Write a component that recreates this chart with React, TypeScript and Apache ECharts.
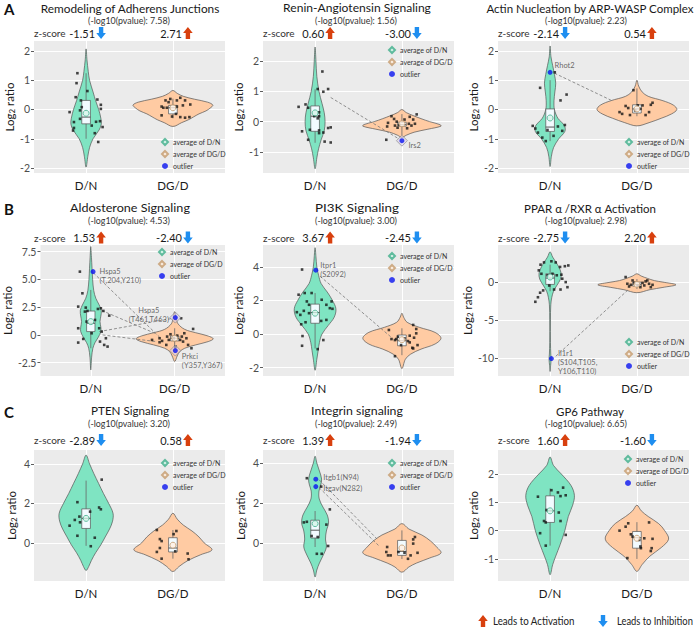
import React, { useEffect, useRef } from 'react';
import * as echarts from 'echarts';

// ---------------- data ----------------
const groups = ['D/N', 'DG/D'];
const panelLetters = ['A', 'B', 'C'];
const pathways = [
  'Remodeling of Adherens Junctions',
  'Renin-Angiotensin Signaling',
  'Actin Nucleation by ARP-WASP Complex',
  'Aldosterone Signaling',
  'PI3K Signaling',
  'PPAR α /RXR α Activation',
  'PTEN Signaling',
  'Integrin signaling',
  'GP6 Pathway',
];
const negLog10P = ['7.58', '1.56', '2.23', '4.53', '3.00', '2.98', '3.20', '2.49', '6.65'];
const zScores = [
  ['-1.51', '2.71'], ['0.60', '-3.00'], ['-2.14', '0.54'],
  ['1.53', '-2.40'], ['3.67', '-2.45'], ['-2.75', '2.20'],
  ['-2.89', '0.58'], ['1.39', '-1.94'], ['1.60', '-1.60'],
];
const yRanges = [
  [-2.17, 2.34], [-1.7, 2.67], [-2.17, 2.34],
  [-3.7, 8.1], [-2.5, 5.3], [-12.4, 4.9],
  [-1.93, 4.7], [-1.9, 4.65], [-1.78, 2.85],
];
const yTicks = [
  [-2, -1, 0, 1, 2], [-1, 0, 1, 2], [-2, -1, 0, 1, 2],
  [-2.5, 0, 2.5, 5, 7.5], [-2, 0, 2, 4], [-10, -5, 0],
  [0, 2, 4], [0, 2, 4], [-1, 0, 1, 2],
];
const yTickLabels = [
  ['-2', '-1', '0', '1', '2'], ['-1', '0', '1', '2'], ['-2', '-1', '0', '1', '2'],
  ['-2.5', '0', '2.5', '5.0', '7.5'], ['-2', '0', '2', '4'], ['-10', '-5', '0'],
  ['0', '2', '4'], ['0', '2', '4'], ['-1', '0', '1', '2'],
];

// violin outlines: [log2 ratio, half width]
const violinA1DN = [[2.07, 0], [1.7, 0.01], [1.3, 0.025], [1.0, 0.04], [0.6, 0.08], [0.3, 0.11], [0, 0.145], [-0.3, 0.17], [-0.5, 0.175], [-0.7, 0.15], [-1.0, 0.08], [-1.3, 0.04], [-1.6, 0.02], [-1.97, 0]];
const violinA1DGD = [[0.65, 0], [0.55, 0.05], [0.45, 0.12], [0.35, 0.25], [0.25, 0.4], [0.15, 0.46], [0.05, 0.43], [-0.05, 0.38], [-0.15, 0.3], [-0.25, 0.24], [-0.35, 0.18], [-0.45, 0.1], [-0.58, 0]];
const violinA2DN = [[2.47, 0], [2.0, 0.01], [1.5, 0.02], [1.0, 0.045], [0.6, 0.08], [0.3, 0.105], [0, 0.115], [-0.3, 0.105], [-0.6, 0.07], [-0.9, 0.04], [-1.2, 0.02], [-1.56, 0]];
const violinA2DGD = [[0.4, 0], [0.3, 0.05], [0.2, 0.13], [0.1, 0.22], [0, 0.32], [-0.1, 0.44], [-0.15, 0.45], [-0.25, 0.3], [-0.35, 0.14], [-0.45, 0.05], [-0.52, 0]];
const violinA3DN = [[2.17, 0], [1.8, 0.01], [1.5, 0.03], [1.2, 0.05], [0.9, 0.065], [0.6, 0.055], [0.3, 0.045], [0, 0.05], [-0.3, 0.09], [-0.55, 0.165], [-0.75, 0.17], [-1.0, 0.1], [-1.3, 0.04], [-1.6, 0.015], [-1.95, 0]];
const violinA3DGD = [[1.0, 0], [0.8, 0.02], [0.6, 0.06], [0.45, 0.13], [0.3, 0.3], [0.15, 0.42], [0, 0.46], [-0.15, 0.4], [-0.3, 0.28], [-0.45, 0.14], [-0.56, 0]];
const violinB1DN = [[7.96, 0], [7, 0.008], [6, 0.015], [5, 0.022], [4, 0.035], [3.3, 0.06], [2.7, 0.1], [2.2, 0.125], [1.7, 0.12], [1.2, 0.11], [0.7, 0.12], [0.3, 0.12], [-0.2, 0.09], [-0.7, 0.05], [-1.2, 0.025], [-2, 0.01], [-3.15, 0]];
const violinB1DGD = [[2.1, 0], [1.5, 0.02], [1.0, 0.04], [0.5, 0.12], [0.2, 0.25], [-0.1, 0.4], [-0.35, 0.46], [-0.6, 0.4], [-0.9, 0.25], [-1.2, 0.12], [-1.5, 0.06], [-1.9, 0.03], [-2.4, 0]];
const violinB2DN = [[5.14, 0], [4.6, 0.01], [4, 0.02], [3.5, 0.04], [3, 0.07], [2.5, 0.14], [2, 0.2], [1.5, 0.24], [1.0, 0.22], [0.5, 0.15], [0, 0.08], [-0.5, 0.05], [-1.0, 0.035], [-1.5, 0.02], [-2.16, 0]];
const violinB2DGD = [[1.24, 0], [1.0, 0.02], [0.7, 0.06], [0.4, 0.2], [0.1, 0.38], [-0.25, 0.45], [-0.6, 0.38], [-0.9, 0.22], [-1.2, 0.1], [-1.5, 0.04], [-2.06, 0]];
const violinB3DN = [[4, 0], [3.3, 0.03], [2.6, 0.07], [2, 0.1], [1.2, 0.127], [0.4, 0.12], [-0.4, 0.08], [-1.2, 0.04], [-2, 0.02], [-3, 0.008], [-5, 0.004], [-8, 0.004], [-9.5, 0.008], [-10.2, 0.012], [-11, 0.006], [-11.8, 0]];
const violinB3DGD = [[1.1, 0], [0.8, 0.05], [0.5, 0.12], [0.2, 0.2], [0, 0.3], [-0.35, 0.45], [-0.7, 0.3], [-1.0, 0.15], [-1.4, 0]];
const violinC1DN = [[4.44, 0], [4, 0.04], [3.5, 0.09], [3, 0.145], [2.5, 0.2], [2, 0.26], [1.5, 0.31], [1.1, 0.305], [0.7, 0.27], [0.3, 0.22], [-0.1, 0.17], [-0.5, 0.11], [-0.9, 0.06], [-1.2, 0.03], [-1.4, 0]];
const violinC1DGD = [[1.5, 0], [1.2, 0.05], [0.9, 0.12], [0.6, 0.22], [0.3, 0.3], [0, 0.36], [-0.35, 0.45], [-0.6, 0.32], [-0.9, 0.17], [-1.2, 0.07], [-1.45, 0]];
const violinC2DN = [[4.34, 0], [4, 0.02], [3.6, 0.05], [3.2, 0.075], [2.9, 0.065], [2.6, 0.045], [2.2, 0.048], [1.8, 0.09], [1.4, 0.14], [1.0, 0.155], [0.6, 0.13], [0.2, 0.12], [-0.2, 0.13], [-0.6, 0.095], [-1.0, 0.05], [-1.35, 0.02], [-1.7, 0]];
const violinC2DGD = [[0.97, 0], [0.7, 0.08], [0.4, 0.23], [0.1, 0.33], [-0.2, 0.4], [-0.5, 0.45], [-0.75, 0.32], [-1.0, 0.17], [-1.2, 0.08], [-1.46, 0]];
const violinC3DN = [[2.6, 0], [2.3, 0.04], [2.0, 0.13], [1.6, 0.24], [1.25, 0.28], [0.9, 0.26], [0.5, 0.21], [0, 0.17], [-0.5, 0.115], [-0.9, 0.065], [-1.2, 0.03], [-1.56, 0]];
const violinC3DGD = [[0.9, 0], [0.7, 0.05], [0.5, 0.13], [0.25, 0.25], [0, 0.32], [-0.3, 0.365], [-0.6, 0.28], [-0.9, 0.15], [-1.2, 0.06], [-1.44, 0]];
const violins = [
  [violinA1DN, violinA1DGD], [violinA2DN, violinA2DGD], [violinA3DN, violinA3DGD],
  [violinB1DN, violinB1DGD], [violinB2DN, violinB2DGD], [violinB3DN, violinB3DGD],
  [violinC1DN, violinC1DGD], [violinC2DN, violinC2DGD], [violinC3DN, violinC3DGD],
];

// jittered phosphosites: [offset from group, log2 ratio]
const pointsA1DN = [[-0.10, 1.24], [-0.11, 0.90], [0.015, 0.63], [-0.12, 0.42], [-0.06, 0.31], [0.13, 0.34], [0.17, 0.16], [0.17, 0.02], [-0.19, -0.09], [-0.05, 0.08], [-0.07, -0.32], [-0.14, -0.43], [-0.14, -0.63], [0.115, -0.42], [0.16, -0.40], [0.065, -0.55], [0.19, -0.60], [-0.15, -0.72], [0.10, -0.81], [0.14, -1.11], [-0.07, -0.03]];
const pointsA1DGD = [[-0.085, 0.31], [-0.03, 0.36], [0.046, 0.31], [0.085, 0.40], [0.14, 0.31], [-0.13, 0.10], [-0.11, 0.06], [-0.07, 0.06], [0.046, 0.10], [0.115, 0.14], [0.2, 0.17], [-0.13, -0.20], [-0.01, -0.24], [0.035, -0.15], [0.085, -0.26], [0.14, -0.28], [0.19, -0.26], [-0.05, 0.25]];
const pointsA2DN = [[0.084, 1.66], [0.03, 1.08], [0.095, 0.99], [0.15, 1.08], [-0.19, 0.49], [-0.11, 0.57], [-0.08, 0.46], [0.046, 0.31], [-0.01, 0.18], [0.046, 0.18], [0.03, 0.11], [-0.15, -0.32], [-0.06, -0.27], [0.046, -0.29], [0.15, -0.21], [0.18, -0.19], [0.095, -0.36], [-0.08, -0.6], [0.11, -0.66], [0.18, -0.69], [0.046, -0.38]];
const pointsA2DGD = [[-0.12, 0.18], [-0.09, 0.09], [-0.16, -0.04], [-0.17, -0.16], [-0.06, 0], [0.03, 0.07], [0.09, 0.16], [0.13, 0.07], [0.15, -0.07], [0.17, 0.24], [-0.05, -0.2], [0.06, -0.22], [0.11, -0.13], [-0.18, -0.6], [-0.03, -0.1], [0.08, -0.07], [-0.08, -0.13]];
const pointsA3DN = [[-0.115, 0.74], [0.054, 1.27], [0.12, 0.31], [0.19, 0.51], [-0.2, -0.56], [-0.17, -0.65], [-0.14, -0.79], [-0.09, -0.96], [-0.05, -1.08], [0.04, -0.9], [0.09, -0.58], [0.14, -0.73], [0.17, -0.53], [-0.03, -0.7]];
const pointsA3DGD = [[-0.04, 0.66], [-0.13, 0.12], [-0.1, 0.05], [-0.2, -0.09], [-0.17, -0.15], [-0.08, -0.19], [-0.02, -0.03], [0.04, 0.02], [0.065, 0.14], [0.1, -0.19], [0.14, -0.09], [0.16, 0.16], [0.18, 0.23], [0.01, 0.14]];
const pointsB1DN = [[-0.13, 5.7], [-0.1, 3.75], [-0.15, 2.55], [-0.06, 2.46], [-0.07, 2.1], [-0.04, 2.16], [0.085, 2.34], [0.12, 2.4], [0.15, 2.16], [-0.15, 0.6], [-0.09, -0.36], [-0.15, -0.69], [-0.05, 1.2], [0.05, 1.35], [0.1, 0.6], [0.13, 0.3], [0.11, -0.6], [0.16, -0.9], [0.2, -1.05], [0.18, -0.3], [0.22, 1.74], [0.01, 0.15]];
const pointsB1DGD = [[-0.27, -0.45], [-0.18, -0.3], [-0.15, -0.54], [-0.09, -0.15], [-0.07, -0.45], [-0.01, -0.3], [0.03, -0.06], [0.065, -0.45], [0.085, -0.15], [0.115, 0.15], [0.1, -0.6], [0.14, -0.3], [0.16, -0.9], [0.2, -1.2], [0.077, 1.5], [-0.05, 0.06], [-0.1, -0.9], [0.01, -1.05], [0.22, 0.54], [-0.18, -0.66]];
const pointsB2DN = [[-0.15, 3.84], [-0.19, 2.34], [-0.12, 2.44], [-0.04, 2.44], [-0.095, 1.94], [0.076, 2.04], [0.13, 1.74], [0.17, 1.54], [0.2, 1.5], [0.19, 1.94], [-0.21, 1.3], [-0.17, 1.14], [-0.13, 1.38], [-0.07, 1.24], [-0.11, 0.7], [-0.16, 0.58], [0.07, 0.78], [0.13, 0.84], [-0.145, -0.12], [-0.15, -0.7], [0.095, -0.36], [0.03, -0.9], [-0.07, 1.74]];
const pointsB2DGD = [[-0.15, 0.24], [-0.12, -0.3], [-0.065, -0.3], [-0.046, -0.16], [-0.08, -0.36], [0.03, -0.26], [0.07, -0.42], [0.09, -0.5], [0.12, -0.82], [0.13, 0.54], [0.165, 0.3], [0.165, 0.04], [0.09, -0.1], [0.14, -0.22], [-0.08, -1.32], [0.18, -0.66], [-0.01, -0.66], [0.13, -0.86]];
const pointsB3DN = [[-0.11, 2.3], [-0.07, 2.6], [0.015, 2.75], [0.065, 2.6], [0.115, 2.0], [0.17, 2.1], [0.21, 2.2], [-0.13, 1.55], [-0.1, 1.1], [-0.03, 0.9], [0.027, 1.1], [0.077, 0.9], [0.13, 0.98], [0.14, 0.45], [0.18, 0], [0.2, -0.67], [-0.08, -1.1], [-0.115, -1.4], [-0.14, -2.0], [-0.17, -2.6], [0.046, -0.98], [0.12, -0.98], [-0.01, -0.45]];
const pointsB3DGD = [[-0.13, 0.67], [-0.11, -0.22], [-0.07, -0.36], [-0.03, -0.1], [0.008, -0.44], [0.065, -0.1], [0.1, 0.1], [0.14, -0.22], [0.16, -0.67], [0.18, -0.36], [0.04, -0.67], [-0.09, -0.58], [0.085, -0.44], [-0.05, 0.22], [0.12, 0.22]];
const pointsC1DN = [[0.18, 3.2], [-0.1, 2.06], [0.046, 1.58], [0.15, 1.79], [0.17, 1.7], [-0.13, 1.16], [-0.077, 1.33], [-0.07, 1.04], [-0.19, 0.87], [-0.1, 0.36], [0.1, 0.26], [0.054, -0.17]];
const pointsC1DGD = [[-0.185, 0.65], [-0.15, 0.19], [-0.13, 0.09], [-0.15, -0.26], [-0.185, -0.46], [-0.13, -0.8], [0.008, 0.44], [0.04, 0.6], [0.027, -0.43], [0.17, -0.54], [0.18, -0.83]];
const pointsC2DN = [[-0.095, 3.24], [0.07, 2.82], [0.17, 1.68], [-0.13, 1.03], [-0.095, 1.06], [-0.04, 0.35], [0.03, 0.3], [0.13, 0.92], [0.15, -0.15], [0.02, -0.54], [0.076, -0.54]];
const pointsC2DGD = [[-0.17, -0.2], [-0.16, -0.62], [-0.18, -0.45], [-0.13, -0.62], [-0.04, -0.45], [0.03, -0.49], [0.07, -0.79], [0.1, -0.62], [0.13, 0.18], [0.15, 0.3], [0.18, -0.49], [0.13, -0.03]];
const pointsC3DN = [[-0.14, 1.2], [0.015, 1.43], [0.09, 1.35], [0.15, 1.52], [0.18, 1.25], [0.12, 1.22], [-0.04, 0.73], [0.1, 0.64], [-0.05, 0.29], [0.12, 0.34], [-0.115, -0.09], [-0.05, -0.53], [0.18, -0.15], [-0.07, 0.34]];
const pointsC3DGD = [[-0.2, 0], [-0.13, 0.14], [-0.1, 0.26], [-0.07, -0.13], [-0.05, -0.21], [0.027, -0.33], [0.046, -0.62], [0.085, -0.27], [0.18, -0.29], [0.14, 0.29], [0.17, -0.62], [0.16, -0.72], [-0.11, -0.97], [0.04, -0.56]];
const points = [
  [pointsA1DN, pointsA1DGD], [pointsA2DN, pointsA2DGD], [pointsA3DN, pointsA3DGD],
  [pointsB1DN, pointsB1DGD], [pointsB2DN, pointsB2DGD], [pointsB3DN, pointsB3DGD],
  [pointsC1DN, pointsC1DGD], [pointsC2DN, pointsC2DGD], [pointsC3DN, pointsC3DGD],
];

// box statistics: [lower whisker, Q1, median, Q3, upper whisker]
const boxStats = [
  [[-1.0, -0.49, -0.26, 0.31, 1.24], [-0.3, -0.15, 0.06, 0.14, 0.37]],
  [[-0.7, -0.32, 0.18, 0.52, 1.07], [-0.45, -0.15, -0.1, -0.02, 0.25]],
  [[-1.08, -0.75, -0.6, 0.02, 1.0], [-0.23, -0.12, 0.02, 0.16, 0.72]],
  [[-1.2, 0.3, 1.05, 2.15, 4.05], [-1.3, -0.54, -0.3, -0.1, 0.6]],
  [[-0.86, 0.64, 1.28, 1.78, 2.44], [-1.26, -0.7, -0.4, -0.06, 0.34]],
  [[-1.2, -0.3, 0.53, 1.1, 2.3], [-0.9, -0.53, -0.3, 0, 0.4]],
  [[-0.15, 0.73, 1.24, 1.72, 3.15], [-0.8, -0.46, -0.26, 0.26, 0.65]],
  [[-0.2, 0.25, 0.64, 1.14, 1.6], [-0.8, -0.62, -0.42, 0.13, 0.63]],
  [[-0.53, 0.29, 0.7, 1.23, 1.49], [-1.0, -0.62, -0.25, -0.03, 0.3]],
];
const means = [
  [-0.13, 0.06], [0.29, -0.07], [-0.29, 0.02],
  [1.2, -0.3], [1.24, -0.34], [0.67, -0.3],
  [1.24, -0.12], [0.97, -0.25], [0.7, -0.27],
];
// outliers: [group index, offset, log2 ratio, site]
const outliers = [
  [],
  [[1, 0, -0.63, 'Irs2']],
  [[0, 0, 1.27, 'Rhot2']],
  [[0, 0.027, 5.7, 'Hspa5\n(T,204,Y210)'], [1, 0.008, 1.56, 'Hspa5\n(T461,T463)'], [1, 0.008, -1.41, 'Prkci\n(Y357,Y367)']],
  [[0, 0.008, 3.8, 'Itpr1\n(S2092)']],
  [[0, 0.015, -10.1, 'Il1r1\n(S104,T105,\nY106,T110)']],
  [],
  [[0, 0.008, 3.19, 'Itgb1(N94)'], [0, 0.008, 2.82, 'Itgav(N282)']],
  [],
];
// same protein linked between groups: [x1, y1, x2, y2]
const links = [
  [],
  [[1.18, 0.8, 1.97, -0.58]],
  [[1.05, 1.24, 1.7, 0.32]],
  [[1.03, 5.6, 1.82, -0.2], [1.13, 2.2, 1.78, 0.1], [1.1, 0.3, 1.98, 1.5], [1.14, 0.0, 1.78, -0.6]],
  [[1.057, 3.44, 1.87, -0.16]],
  [[1.065, -9.8, 1.91, -0.9]],
  [],
  [[1.046, 3.16, 1.73, 0.13], [1.046, 2.77, 1.73, -0.12]],
  [],
];

// ---------------- layout / style ----------------
const FONT = 'Lato, "Open Sans", sans-serif';
const colLeft = [34, 263, 498];
const plotW = 191;
const rowTop = [41, 245, 450];
const rowBottom = [173, 376, 581];
const titleCX = [130, 357, 590];
const subCX = [129, 356, 586];
const titleW = [180, 148, 208, 120, 84, 132, 78, 92, 68];
const subW = 82;
const titleY = [8, 207.5, 410.5];
const subY = [20.5, 220.5, 423];
const zY = [33, 237.5, 440];
const letterY = [9, 209, 412];
const violinFill = ['#7FE4C2', '#FFCBA3'];
const meanFill = ['#d5f5ea', '#fff0e2'];
const meanStroke = ['#3fae8a', '#c49a6c'];
const RED = '#d8400e';
const BLUE = '#1e8ef0';
// legend box [left, top]
const legendPos = [[161, 137], [388, 45], [625, 137], [158, 247], [388, 251], [625, 337], [161, 458], [388, 458], [624, 454]];
// outlier label placement [position, offsetX, offsetY, align]
const outlierLabelPos = [
  [],
  [['right', 0, 5, 'left']],
  [['right', -2, -7, 'left']],
  [['right', 0, 4, 'left'], ['left', -20, -3, 'center'], ['right', 0, 10, 'left']],
  [['right', -2, 0, 'left']],
  [['right', 0, 4, 'left']],
  [],
  [['right', 1, -1.5, 'left'], ['right', 1, 1.5, 'left']],
  [],
];

const upArrow = [[0, -6], [4.8, 0], [2.2, 0], [2.2, 6], [-2.2, 6], [-2.2, 0], [-4.8, 0]];
const downArrow = upArrow.map(([x, y]) => [x, -y]);

let measureCtx: CanvasRenderingContext2D | null = null;
function textWidth(text: string, size: number) {
  if (!measureCtx) measureCtx = document.createElement('canvas').getContext('2d');
  if (!measureCtx) return 0;
  measureCtx.font = `${size}px ${FONT}`;
  return measureCtx.measureText(text).width;
}

function arrowFor(v: string, x: number, y: number) {
  const up = parseFloat(v) > 0;
  return { type: 'polygon', x, y, shape: { points: up ? upArrow : downArrow }, style: { fill: up ? RED : BLUE } };
}
function txt(text: string, x: number, y: number, size: number, align = 'center', color = '#1a1a1a', weight = 'normal') {
  return {
    type: 'text', x, y,
    style: { text, fill: color, fontSize: size, fontFamily: FONT, fontWeight: weight, align, verticalAlign: 'middle' },
  };
}
// text squeezed horizontally to the width it takes in the reference
function fitTxt(text: string, x: number, y: number, size: number, width: number, align = 'center', color = '#1a1a1a') {
  const w = textWidth(text, size);
  const s = w > 0 ? width / w : 1;
  return { ...txt(text, x, y, size, align, color), scaleX: s };
}

function buildOption() {
  const grid: any[] = [], xAxis: any[] = [], yAxis: any[] = [], series: any[] = [], legend: any[] = [], graphic: any[] = [];
  for (let p = 0; p < 9; p++) {
    const r = Math.floor(p / 3), c = p % 3;
    const left = colLeft[c];
    grid.push({ left, top: rowTop[r], width: plotW, height: rowBottom[r] - rowTop[r], show: true, backgroundColor: '#EBEBEB', borderWidth: 0 });
    xAxis.push({
      type: 'value', gridIndex: p, min: 0.4, max: 2.6,
      axisLine: { show: false },
      axisTick: { show: true, customValues: [1, 2], length: 3, lineStyle: { color: '#333', width: 0.8 } },
      axisLabel: { customValues: [1, 2], formatter: (v: number) => groups[Math.round(v) - 1], color: '#1a1a1a', fontSize: 11.5, fontFamily: FONT, margin: 6 },
      splitLine: { show: true, lineStyle: { color: '#ffffff', width: 1 } },
    });
    const ticks = yTicks[p], labs = yTickLabels[p];
    yAxis.push({
      type: 'value', gridIndex: p, min: yRanges[p][0], max: yRanges[p][1],
      axisLine: { show: false },
      axisTick: { show: true, customValues: ticks, length: 3, lineStyle: { color: '#333', width: 0.8 } },
      axisLabel: { customValues: ticks, formatter: (v: number) => labs[ticks.indexOf(v)] ?? '', color: '#4d4d4d', fontSize: 10.5, fontFamily: FONT, margin: 4 },
      splitLine: { show: true, lineStyle: { color: '#ffffff', width: 1 } },
      name: '{a|Log}{b|2}{a| ratio}', nameLocation: 'middle', nameGap: 16,
      nameTextStyle: { rich: { a: { fontSize: 11.5, color: '#1a1a1a', fontFamily: FONT }, b: { fontSize: 8, color: '#1a1a1a', fontFamily: FONT, verticalAlign: 'bottom', padding: [6, 0, 0, 0] } } },
    });
    const ax = { xAxisIndex: p, yAxisIndex: p };
    // violins
    series.push({
      type: 'custom', ...ax, silent: true, data: [[1, 0], [2, 0]],
      renderItem: (params: any, api: any) => {
        const g = params.dataIndex, cx = g + 1, prof = violins[p][g];
        const right = prof.map(([y, hw]) => api.coord([cx + hw, y]));
        const leftSide = prof.slice(1, -1).reverse().map(([y, hw]) => api.coord([cx - hw, y]));
        return { type: 'polygon', shape: { points: right.concat(leftSide), smooth: 0.35 }, style: { fill: violinFill[g], stroke: '#555', lineWidth: 0.7 } };
      },
    });
    // boxes
    series.push({
      type: 'custom', ...ax, silent: true, data: [[1, 0], [2, 0]],
      renderItem: (params: any, api: any) => {
        const g = params.dataIndex, cx = g + 1, bw = 0.05;
        const [mn, q1, md, q3, mx] = boxStats[p][g];
        const t = api.coord([cx, mx]), b = api.coord([cx, mn]);
        const a1 = api.coord([cx - bw, q3]), a2 = api.coord([cx + bw, q1]);
        const m1 = api.coord([cx - bw, md]), m2 = api.coord([cx + bw, md]);
        return {
          type: 'group', children: [
            { type: 'line', shape: { x1: t[0], y1: t[1], x2: b[0], y2: b[1] }, style: { stroke: '#666', lineWidth: 0.8 } },
            { type: 'rect', shape: { x: a1[0], y: a1[1], width: a2[0] - a1[0], height: a2[1] - a1[1] }, style: { fill: '#f2fbff', stroke: '#555', lineWidth: 0.7 } },
            { type: 'line', shape: { x1: m1[0], y1: m1[1], x2: m2[0], y2: m2[1] }, style: { stroke: '#444', lineWidth: 0.9 } },
          ],
        };
      },
    });
    // dashed links
    if (links[p].length) {
      series.push({
        type: 'custom', ...ax, silent: true, data: links[p],
        renderItem: (params: any, api: any) => {
          const s = api.coord([api.value(0), api.value(1)]), e = api.coord([api.value(2), api.value(3)]);
          return { type: 'line', shape: { x1: s[0], y1: s[1], x2: e[0], y2: e[1] }, style: { stroke: '#777', lineWidth: 0.8, lineDash: [3, 2] } };
        },
      });
    }
    // points
    series.push({
      type: 'scatter', ...ax, silent: true, symbol: 'rect', symbolSize: 2.6, itemStyle: { color: '#151515' },
      data: [...points[p][0].map(([dx, y]) => [1 + dx, y]), ...points[p][1].map(([dx, y]) => [2 + dx, y])],
    });
    // means
    ['average of D/N', 'average of DG/D'].forEach((name, g) => {
      series.push({
        type: 'scatter', name, ...ax, silent: true, symbol: 'circle', symbolSize: 6,
        itemStyle: { color: meanFill[g], borderColor: meanStroke[g], borderWidth: 1 },
        data: [[g + 1, means[p][g]]],
      });
    });
    // outliers
    const outs = outliers[p] as any[];
    const halo = outs.filter((o) => o[0] === 1);
    if (halo.length) {
      series.push({
        type: 'scatter', ...ax, silent: true, symbol: 'diamond', symbolSize: 11,
        itemStyle: { color: 'rgba(215,205,235,0.7)', borderColor: '#888', borderWidth: 0.8 },
        data: halo.map((o) => [o[0] + 1 + o[1], o[2]]),
      });
    }
    series.push({
      type: 'scatter', name: 'outlier', ...ax, silent: true, symbol: 'circle', symbolSize: 5,
      itemStyle: { color: '#0a14f0' },
      data: outs.map((o, i) => {
        const [pos, ox, oy, al] = (outlierLabelPos[p] as any[])[i];
        return {
          value: [o[0] + 1 + o[1], o[2]],
          label: {
            show: true, formatter: o[3], position: pos, distance: 4, offset: [ox, oy], align: al,
            color: '#444', fontSize: 7.5, lineHeight: 9, fontFamily: FONT,
          },
        };
      }),
    });
    legend.push({
      left: legendPos[p][0], top: legendPos[p][1], orient: 'vertical', selectedMode: false, padding: 0,
      itemWidth: 6, itemHeight: 6, itemGap: 2,
      textStyle: { fontSize: 7, color: '#333', fontFamily: FONT, lineHeight: 10 },
      data: [
        { name: 'average of D/N', icon: 'diamond' },
        { name: 'average of DG/D', icon: 'diamond' },
        { name: 'outlier', icon: 'circle' },
      ],
    });
    // titles and z-scores
    const cxN = left + (0.6 / 2.2) * plotW, cxD = left + (1.6 / 2.2) * plotW;
    graphic.push(fitTxt(pathways[p], titleCX[c], titleY[r], 12, titleW[p]));
    graphic.push(fitTxt(`(-log10(pvalue): ${negLog10P[p]})`, subCX[c], subY[r], 10, subW, 'center', '#333'));
    graphic.push(txt('z-score', left, zY[r], 10, 'left', '#333'));
    graphic.push(txt(zScores[p][0], cxN + 9, zY[r], 11, 'right'));
    graphic.push(arrowFor(zScores[p][0], cxN + 15, zY[r]));
    graphic.push(txt(zScores[p][1], cxD + 9, zY[r], 11, 'right'));
    graphic.push(arrowFor(zScores[p][1], cxD + 15, zY[r]));
  }
  panelLetters.forEach((l, r) => graphic.push(txt(l, 4, letterY[r], 15, 'left', '#111', 'bold')));
  graphic.push(arrowFor('1', 483, 621));
  graphic.push(fitTxt('Leads to Activation', 493, 621, 10.5, 82, 'left', '#222'));
  graphic.push(arrowFor('-1', 603, 621));
  graphic.push(fitTxt('Leads to Inhibition', 617, 621, 10.5, 76, 'left', '#222'));

  return {
    animation: false,
    backgroundColor: '#ffffff',
    textStyle: { fontFamily: FONT },
    grid, xAxis, yAxis, series, legend, graphic,
  };
}

export default function App() {
  const ref = useRef<HTMLDivElement>(null);
  useEffect(() => {
    if (!ref.current) return;
    const chart = echarts.init(ref.current, undefined, { renderer: 'svg' });
    chart.setOption(buildOption() as any);
    return () => chart.dispose();
  }, []);
  return <div ref={ref} style={{ position: 'fixed', left: 0, top: 0, width: 696, height: 630 }} />;
}
